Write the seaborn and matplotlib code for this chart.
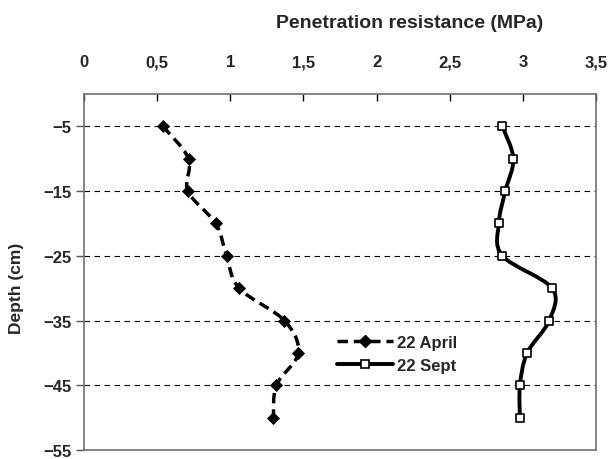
import numpy as np
import pandas as pd
import matplotlib
matplotlib.use("Agg")
import matplotlib.pyplot as plt
import seaborn as sns
from matplotlib.path import Path
from matplotlib.patches import PathPatch

# Data
depth = [-5, -10, -15, -20, -25, -30, -35, -40, -45, -50]
april = [0.54, 0.715, 0.71, 0.90, 0.975, 1.06, 1.37, 1.465, 1.315, 1.295]
sept = [2.86, 2.935, 2.88, 2.835, 2.86, 3.20, 3.18, 3.03, 2.98, 2.98]
x_ticks = [0, 0.5, 1, 1.5, 2, 2.5, 3, 3.5]
x_tick_labels = ["0", "0,5", "1", "1,5", "2", "2,5", "3", "3,5"]
y_ticks = [-5, -15, -25, -35, -45, -55]


def smooth_path(x, y):
    """Excel-style smoothed line through the points (cubic Bezier segments)."""
    pts = np.column_stack([x, y]).astype(float)
    n = len(pts)
    verts = [pts[0]]
    codes = [Path.MOVETO]
    for i in range(n - 1):
        p0 = pts[max(i - 1, 0)]
        p1 = pts[i]
        p2 = pts[i + 1]
        p3 = pts[min(i + 2, n - 1)]
        verts += [p1 + (p2 - p0) / 6, p2 - (p3 - p1) / 6, p2]
        codes += [Path.CURVE4] * 3
    return Path(verts, codes)


df = pd.DataFrame({"depth": depth, "april": april, "sept": sept})

sns.set_style("white")
plt.rcParams["font.family"] = ["Liberation Sans", "DejaVu Sans"]
plt.rcParams["font.weight"] = "bold"

fig = plt.figure(figsize=(6.1, 4.6), dpi=100)
ax = fig.add_axes([84 / 610, 1 - 451 / 460, (596 - 84) / 610, (451 - 95) / 460])

# smoothed lines
ax.add_patch(PathPatch(smooth_path(df["april"], df["depth"]), fill=False,
                       color="black", lw=2.5, linestyle=(0, (3, 1.7)), zorder=2))
ax.add_patch(PathPatch(smooth_path(df["sept"], df["depth"]), fill=False,
                       color="black", lw=2.8, zorder=2))

# markers
sns.scatterplot(data=df, x="april", y="depth", marker="D", s=38, color="black",
                edgecolor="black", linewidth=0.5, ax=ax, zorder=3)
sns.scatterplot(data=df, x="sept", y="depth", marker="s", s=32, color="white",
                edgecolor="black", linewidth=1.2, ax=ax, zorder=3)

ax.set_xlim(0, 3.5)
ax.set_ylim(-55, 0)
ax.xaxis.tick_top()
ax.set_xticks(x_ticks)
ax.set_xticklabels(x_tick_labels)
ax.set_yticks(y_ticks)
ax.set_xlabel("")
ax.set_ylabel("")
ax.tick_params(axis="x", direction="in", length=5, width=1, pad=18, labelsize=12,
               top=True, bottom=False, color="black")
ax.tick_params(axis="y", direction="out", length=6, width=1, pad=3, labelsize=12,
               left=True, color="#555555")
ax.yaxis.grid(True, linestyle=(0, (5, 4)), color="black", lw=0.8)
ax.xaxis.grid(False)
for s in ax.spines.values():
    s.set_color("#707070")
    s.set_linewidth(1.2)

# legend
handles = [
    plt.Line2D([], [], color="black", lw=2.5, linestyle=(0, (3, 1.7)), marker="D",
               markersize=6, markerfacecolor="black"),
    plt.Line2D([], [], color="black", lw=2.8, marker="s", markersize=6,
               markerfacecolor="white", markeredgecolor="black", markeredgewidth=1.2),
]
ax.legend(handles, ["22 April", "22 Sept"], loc="center left",
          bbox_to_anchor=(330 / 610, 1 - 355 / 460), bbox_transform=fig.transFigure,
          frameon=False, fontsize=12, handlelength=3.4, handletextpad=0.2,
          labelspacing=0.5, borderaxespad=0)

fig.text(410 / 610, 1 - 23 / 460, "Penetration resistance (MPa)", ha="center",
         va="center", fontsize=14, fontweight="bold")
fig.text(17 / 610, 1 - 288 / 460, "Depth (cm)", rotation=90, ha="center",
         va="center", fontsize=12.5, fontweight="bold")

fig.savefig("out.png", dpi=100)
